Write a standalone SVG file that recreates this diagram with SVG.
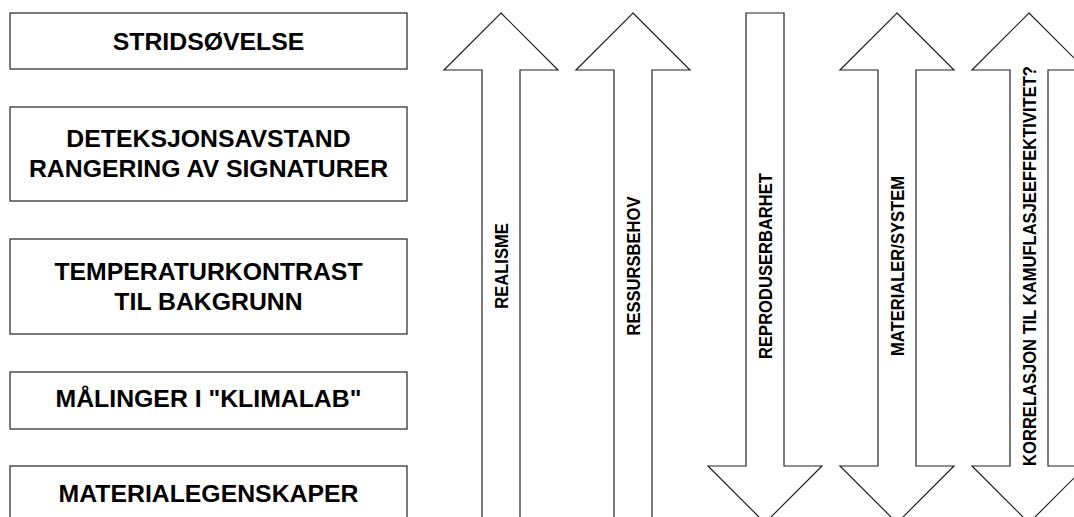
<svg xmlns="http://www.w3.org/2000/svg" width="1074" height="517" viewBox="0 0 1074 517">
<style>
.box{fill:#fff;stroke:#222;stroke-width:1.2}
.arr{fill:#fff;stroke:#222;stroke-width:1.2;stroke-linejoin:miter}
.bt{font-family:"Liberation Sans",Arial,sans-serif;font-weight:bold;font-size:24.8px;fill:#000;text-anchor:middle}
.vt{font-family:"Liberation Sans",Arial,sans-serif;font-weight:bold;font-size:18.4px;fill:#000;text-anchor:middle}
</style>
<rect width="1074" height="517" fill="#fff"/>
<g id="box-stridsovelse">
<rect class="box" x="10" y="13" width="397" height="56"/>
<text class="bt" x="208.5" y="50">STRIDSØVELSE</text>
</g>
<g id="box-deteksjon">
<rect class="box" x="10" y="107" width="397" height="94"/>
<text class="bt" x="208.5" y="147">DETEKSJONSAVSTAND</text>
<text class="bt" x="208.5" y="177">RANGERING AV SIGNATURER</text>
</g>
<g id="box-temperatur">
<rect class="box" x="10" y="239" width="397" height="95"/>
<text class="bt" x="208.5" y="280">TEMPERATURKONTRAST</text>
<text class="bt" x="208.5" y="310">TIL BAKGRUNN</text>
</g>
<g id="box-malinger">
<rect class="box" x="10" y="372" width="397" height="57"/>
<text class="bt" x="208.5" y="407">MÅLINGER I "KLIMALAB"</text>
</g>
<g id="box-material">
<rect class="box" x="10" y="466" width="397" height="60"/>
<text class="bt" x="208.5" y="502">MATERIALEGENSKAPER</text>
</g>
<g id="connectors">
<g id="arrow-realisme">
<polygon class="arr" points="501,13 558,70 520,70 520,530 482,530 482,70 444,70"/>
<text class="vt" transform="translate(507.5,266) rotate(-90) scale(0.9,1)">REALISME</text>
</g>
<g id="arrow-ressursbehov">
<polygon class="arr" points="633,13 690,70 652,70 652,530 614,530 614,70 576,70"/>
<text class="vt" transform="translate(639.5,266) rotate(-90) scale(0.9,1)">RESSURSBEHOV</text>
</g>
<g id="arrow-reproduserbarhet">
<polygon class="arr" points="746,13 784,13 784,466 822,466 765,523 708,466 746,466"/>
<text class="vt" transform="translate(771.5,266) rotate(-90) scale(0.9,1)">REPRODUSERBARHET</text>
</g>
<g id="arrow-materialer">
<polygon class="arr" points="897,13 954,70 916,70 916,466 954,466 897,523 840,466 878,466 878,70 840,70"/>
<text class="vt" transform="translate(903.5,266) rotate(-90) scale(0.9,1)">MATERIALER/SYSTEM</text>
</g>
<g id="arrow-korrelasjon">
<polygon class="arr" points="1029,13 1086,70 1048,70 1048,466 1086,466 1029,523 972,466 1010,466 1010,70 972,70"/>
<text class="vt" transform="translate(1035.5,266) rotate(-90) scale(0.9,1)">KORRELASJON TIL KAMUFLASJEEFFEKTIVITET?</text>
</g>
</g>
</svg>
